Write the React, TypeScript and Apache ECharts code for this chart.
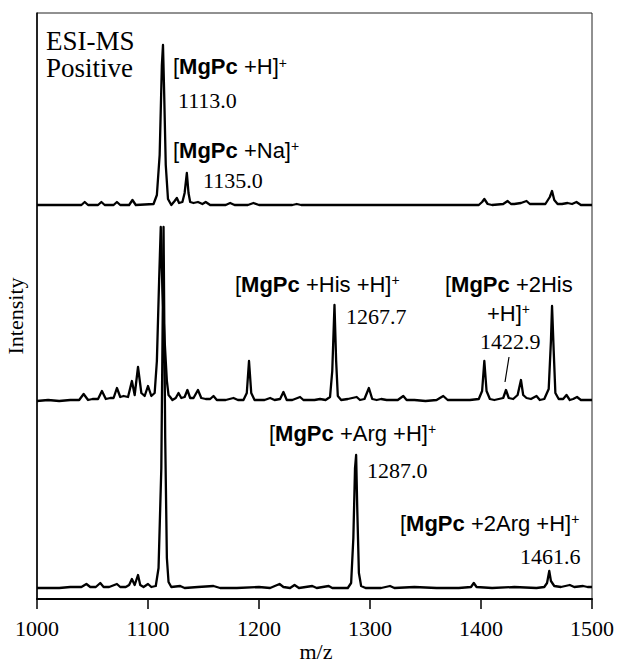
import React, { useEffect, useRef } from "react";
import * as echarts from "echarts";

// m/z range and ticks
const mzMin = 1000;
const mzMax = 1500;
const mzStep = 100;

// Spectrum (a): MgPc alone — [m/z, relative intensity]
const spectrumTop: [number, number][] = [
  [1000, 0], [1040, 0], [1043, 3], [1046, 0], [1055, 0], [1058, 3], [1061, 0],
  [1069, 0], [1072, 3], [1075, 0], [1083, 0], [1086, 5], [1089, 0], [1105, 1],
  [1108, 10], [1110.5, 50], [1112.5, 140], [1113.5, 160], [1114.5, 115], [1116, 40],
  [1118, 6], [1121, 0], [1124, 4], [1126, 7], [1128, 2], [1131, 3], [1133, 12],
  [1135, 32], [1136.5, 12], [1138, 3], [1141, 2], [1145, 3], [1149, 1], [1152, 3],
  [1156, 0], [1170, 0], [1174, 2], [1178, 0], [1190, 0], [1195, 2], [1200, 0],
  [1230, 0], [1234, 1], [1238, 0], [1300, 0], [1398, 0], [1401, 3], [1403, 6],
  [1406, 1], [1410, 0], [1420, 1], [1424, 4], [1427, 1], [1430, 1], [1436, 2],
  [1441, 4], [1444, 1], [1450, 1], [1458, 1], [1462, 8], [1464, 14], [1466, 5],
  [1469, 1], [1473, 1], [1478, 2], [1482, 1], [1486, 3], [1490, 0], [1500, 0],
];

// Spectrum (b): MgPc + His
const spectrumMiddle: [number, number][] = [
  [1000, 0], [1010, 1], [1020, 0], [1030, 1], [1038, 1], [1042, 7], [1046, 1],
  [1050, 2], [1055, 2], [1058.5, 10], [1062, 2], [1066, 3], [1069, 3], [1072, 13],
  [1075, 4], [1078, 5], [1082, 4], [1085.5, 20], [1088, 6], [1091, 34], [1094, 8],
  [1097, 5], [1100, 15], [1103, 5], [1106, 8], [1108, 40], [1110, 120], [1111.5, 174],
  [1113, 110], [1115, 60], [1117, 20], [1118.5, 6], [1120, 4], [1122, 1], [1125, 3],
  [1127.5, 8], [1130, 3], [1133, 4], [1135.5, 11], [1138, 3], [1141, 3], [1145, 11],
  [1148, 3], [1152, 2], [1156, 2], [1159, 5], [1162, 1], [1170, 1], [1177, 3],
  [1181, 1], [1186, 1], [1189, 8], [1191, 40], [1193, 8], [1196, 1], [1205, 1],
  [1210, 3], [1214, 1], [1219, 2], [1222, 9], [1225, 1], [1230, 1], [1237, 4],
  [1240, 1], [1250, 1], [1255, 2], [1260, 1], [1264, 4], [1266, 30], [1268, 96],
  [1269.5, 40], [1271, 5], [1274, 1], [1280, 2], [1284, 3], [1288, 4], [1291, 1],
  [1295, 2], [1299, 13], [1302, 2], [1306, 1], [1310, 2], [1315, 1], [1320, 1],
  [1325, 1], [1330, 5], [1333, 1], [1340, 1], [1350, 0], [1360, 1], [1366, 5],
  [1370, 1], [1380, 1], [1390, 1], [1398, 2], [1401, 10], [1403, 40], [1405, 10],
  [1408, 2], [1412, 1], [1416, 2], [1420, 3], [1422.5, 11], [1425, 3], [1429, 2],
  [1433, 6], [1436, 21], [1438, 6], [1441, 3], [1445, 2], [1450, 5], [1453, 1],
  [1457, 2], [1461, 12], [1463, 60], [1464, 95], [1465.5, 50], [1467, 8], [1470, 2],
  [1474, 2], [1477, 6], [1480, 1], [1483, 2], [1486.5, 4], [1490, 1], [1495, 1],
  [1500, 1],
];

// Spectrum (c): MgPc + Arg
const spectrumBottom: [number, number][] = [
  [1000, 0], [1020, 0], [1030, 1], [1040, 1], [1044.5, 4], [1048, 1], [1053, 1],
  [1057, 5], [1060, 1], [1065, 1], [1072, 4], [1075, 1], [1080, 1], [1083, 3],
  [1085.5, 9], [1088, 3], [1091, 13], [1093, 3], [1096, 1], [1100, 4], [1103, 1],
  [1107, 2], [1109.5, 20], [1112, 120], [1114, 361], [1115.5, 150],
  [1117, 30], [1118.5, 6], [1121, 1], [1129, 2], [1133, 0], [1145, 1], [1159, 2],
  [1165, 0], [1180, 0], [1200, 1], [1210, 0], [1218.5, 4], [1222, 1], [1228, 0],
  [1232, 3], [1236, 0], [1248, 2], [1252, 0], [1262.8, 2], [1266, 0], [1280, 0],
  [1283, 5], [1285, 50], [1286.5, 120], [1287.5, 133], [1288.5, 80], [1290, 15],
  [1292, 2], [1296, 0], [1310, 0], [1318, 2], [1322, 0], [1340, 1], [1360, 0],
  [1380, 0], [1391, 1], [1393.5, 5], [1396, 1], [1410, 0], [1430, 1], [1450, 0],
  [1457, 1], [1459.5, 5], [1461.5, 17], [1463, 7], [1466, 2], [1472, 1], [1480, 3],
  [1484, 1], [1492, 2], [1496, 1], [1500, 1],
];

// Vertical stacking offsets of each trace (intensity units)
const traceOffsets = [394, 198, 11];

// Annotation texts
const peakValues = ["1113.0", "1135.0", "1267.7", "1422.9", "1287.0", "1461.6"];
const ionLabels = [
  "[{b|MgPc} +H]{sup|+}",
  "[{b|MgPc} +Na]{sup|+}",
  "[{b|MgPc} +His +H]{sup|+}",
  "[{b|MgPc} +2His",
  "+H]{sup|+}",
  "[{b|MgPc} +Arg +H]{sup|+}",
  "[{b|MgPc} +2Arg +H]{sup|+}",
];

const SERIF = "'Liberation Serif', 'Times New Roman', serif";
const SANS = "'Liberation Sans', Arial, sans-serif";

export default function App() {
  const ref = useRef<HTMLDivElement>(null);

  useEffect(() => {
    if (!ref.current) return;
    const chart = echarts.init(ref.current, undefined, { renderer: "svg" });

    const spectra = [spectrumTop, spectrumMiddle, spectrumBottom];
    const series = spectra.map((s, i) => ({
      type: "line" as const,
      data: s.map(([mz, v]) => [mz, v + traceOffsets[i]]),
      showSymbol: false,
      symbol: "none",
      clip: false,
      lineStyle: { color: "#000", width: 2.3, join: "round" as const },
      silent: true,
    }));

    const rich = {
      b: { fontFamily: SANS, fontSize: 22, fontWeight: "bold" as const, fill: "#000" },
      sup: { fontFamily: SANS, fontSize: 14, verticalAlign: "top" as const, fill: "#000" },
    };

    const ion = (text: string, x: number, y: number) => ({
      type: "text" as const,
      x,
      y,
      style: {
        text,
        fontFamily: SANS,
        fontSize: 22,
        fill: "#000",
        align: "left" as const,
        verticalAlign: "middle" as const,
        rich,
      },
    });
    const num = (text: string, x: number, y: number) => ({
      type: "text" as const,
      x,
      y,
      style: {
        text,
        fontFamily: SERIF,
        fontSize: 22,
        fill: "#000",
        align: "left" as const,
        verticalAlign: "middle" as const,
      },
    });

    chart.setOption({
      animation: false,
      grid: {
        left: 37,
        right: 25,
        top: 13,
        bottom: 63,
        show: true,
        borderColor: "#222",
        borderWidth: 1,
      },
      xAxis: {
        type: "value",
        min: mzMin,
        max: mzMax,
        interval: mzStep,
        axisLine: { show: true, lineStyle: { color: "#000", width: 2 } },
        axisTick: { show: true, length: 10, inside: false, lineStyle: { color: "#000", width: 1.5 } },
        axisLabel: {
          fontFamily: SERIF,
          fontSize: 22,
          color: "#000",
          margin: 18,
          formatter: (v: number) => String(v),
        },
        splitLine: { show: false },
      },
      yAxis: {
        type: "value",
        min: 0,
        max: 586,
        axisLine: { show: true, lineStyle: { color: "#000", width: 1.5 } },
        axisTick: { show: false },
        axisLabel: { show: false },
        splitLine: { show: false },
      },
      series,
      graphic: [
        {
          type: "text",
          x: 46,
          y: 40.5,
          style: { text: "ESI-MS", fontFamily: SERIF, fontSize: 27, fill: "#000", align: "left", verticalAlign: "middle" },
        },
        {
          type: "text",
          x: 46,
          y: 68,
          style: { text: "Positive", fontFamily: SERIF, fontSize: 27, fill: "#000", align: "left", verticalAlign: "middle" },
        },
        ion(ionLabels[0], 173, 66.5),
        num(peakValues[0], 178, 100),
        ion(ionLabels[1], 173, 150),
        num(peakValues[1], 203, 180.5),
        ion(ionLabels[2], 235, 284),
        num(peakValues[2], 346, 316),
        ion(ionLabels[3], 445, 284),
        ion(ionLabels[4], 487, 313),
        num(peakValues[3], 480, 341),
        {
          type: "line",
          shape: { x1: 509, y1: 357, x2: 505, y2: 382 },
          style: { stroke: "#000", lineWidth: 1.2 },
        },
        ion(ionLabels[5], 269, 433),
        num(peakValues[4], 367, 470),
        ion(ionLabels[6], 400, 523),
        num(peakValues[5], 520, 556),
        {
          type: "text",
          x: 15,
          y: 316,
          rotation: Math.PI / 2,
          style: { text: "Intensity", fontFamily: SERIF, fontSize: 22, fill: "#000", align: "center", verticalAlign: "middle" },
        },
        {
          type: "text",
          x: 316,
          y: 651,
          style: { text: "m/z", fontFamily: SERIF, fontSize: 22, fill: "#000", align: "center", verticalAlign: "middle" },
        },
      ],
    });

    return () => chart.dispose();
  }, []);

  return (
    <div
      ref={ref}
      style={{ position: "fixed", left: 0, top: 0, width: 617, height: 662, background: "#fff" }}
    />
  );
}
